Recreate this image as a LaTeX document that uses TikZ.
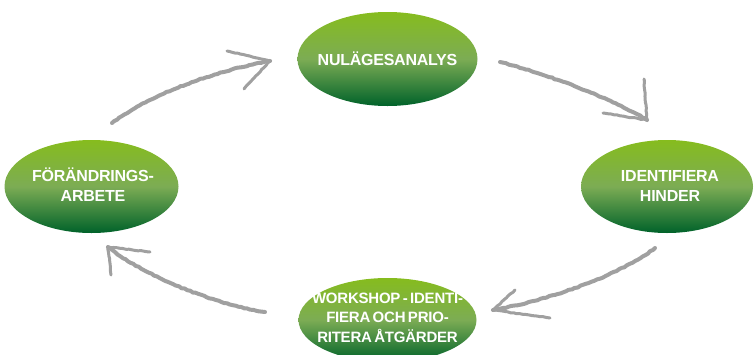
\documentclass[tikz,border=0pt]{standalone}
\usepackage{fontspec}
\setmainfont{Liberation Sans}
\newfontfamily\stagefont[LetterSpace=-1.5,WordSpace=0.6]{Liberation Sans}
\usetikzlibrary{shapes.geometric,decorations.pathmorphing}
\definecolor{gtop}{RGB}{134,188,30}
\definecolor{gmid}{RGB}{124,172,84}
\definecolor{gbot}{RGB}{0,98,42}
\definecolor{arrowgray}{RGB}{160,160,160}
\tikzset{
  stagetext/.style={text=white, font=\stagefont\fontsize{16}{19.5}\selectfont\bfseries, align=center, inner sep=0pt},
  smalltext/.style={stagetext, font=\stagefont\fontsize{15}{19.5}\selectfont\bfseries},
  stage/.style n args={2}{ellipse, minimum width=#1, minimum height=#2, inner sep=0pt,
    top color=gtop, bottom color=gbot, middle color=gmid},
  sketch/.style={draw=arrowgray, line width=4pt, line cap=round, line join=round,
    decorate, decoration={random steps, segment length=3pt, amplitude=0.5pt}},
  barb/.style={draw=arrowgray, line width=3pt, line cap=round,
    decorate, decoration={random steps, segment length=3pt, amplitude=0.4pt}}
}
\begin{document}
\begin{tikzpicture}[x=1pt,y=-1pt]
\useasboundingbox (0,0) rectangle (755,354);
\clip (0,0) rectangle (755,354);
% ellipses
\node[stage={180pt}{94pt}] (nul) at (387.5,59) {};
\node[stage={174pt}{93pt}] (for) at (91.5,186.5) {};
\node[stage={172pt}{93pt}] (ide) at (667,186.5) {};
\node[stage={178pt}{84pt}] (wor) at (387.5,320) {};
% texts
\node[stagetext] (nultext) at (nul.center) {NULÄGESANALYS};
\node[stagetext] (fortext) at (93,184.5) {FÖRÄNDRINGS-\\ARBETE};
\node[stagetext] (idetext) at (670,186) {IDENTIFIERA\\HINDER};
\node[smalltext] (wortext) at (387.5,317.5) {WORKSHOP - IDENTI-\\FIERA OCH PRIO-\\RITERA ÅTGÄRDER};
% arrow endpoints
\coordinate (a1s) at (112,123); \coordinate (a1e) at (270,61);
\coordinate (a2s) at (500,62);  \coordinate (a2e) at (647,120);
\coordinate (a3s) at (655,248); \coordinate (a3e) at (493,310);
\coordinate (a4s) at (265,312); \coordinate (a4e) at (108,247);
% shafts
\path[sketch] (a1s) .. controls (150,95) and (210,72) .. (a1e);
\path[sketch] (a2s) .. controls (545,74) and (605,95) .. (a2e);
\path[sketch] (a3s) .. controls (620,275) and (550,300) .. (a3e);
\path[sketch] (a4s) .. controls (220,305) and (150,280) .. (a4e);
% heads
\path[barb] (a1e) -- (227,51); \path[barb] (a1e) -- (244,89);
\path[barb] (a2e) -- (644,79); \path[barb] (a2e) -- (603,113);
\path[barb] (a3e) -- (515,290); \path[barb] (a3e) -- (550,318);
\path[barb] (a4e) -- (150,252); \path[barb] (a4e) -- (111,275);
\end{tikzpicture}
\end{document}
